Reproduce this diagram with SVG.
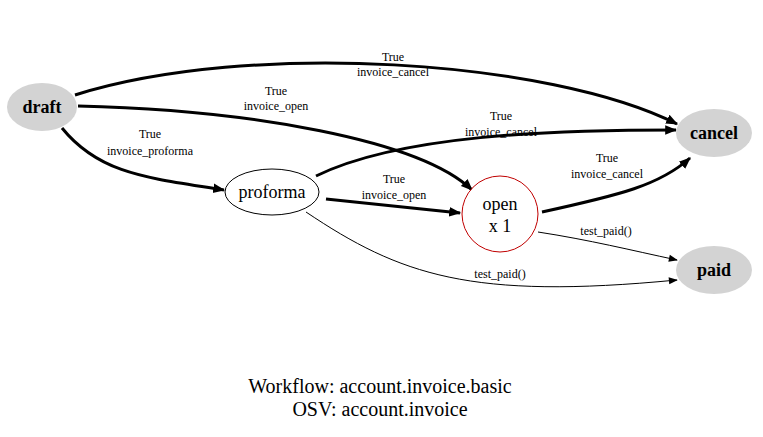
<svg xmlns="http://www.w3.org/2000/svg" width="763" height="437" viewBox="0 0 763 437" font-family="'Liberation Serif','Times New Roman','DejaVu Serif',serif">
<style>
text{font-family:'Liberation Serif','Times New Roman','DejaVu Serif',serif;fill:#000}
.l{font-size:12px;text-anchor:middle}
.n{font-size:18px;text-anchor:middle}
.b{font-weight:bold}
.t{fill:none;stroke:#000;stroke-width:3}
.h{fill:none;stroke:#000;stroke-width:1}
</style>
<defs>
<marker id="a" viewBox="0 0 10 10" refX="9" refY="5" markerWidth="4" markerHeight="4" orient="auto" markerUnits="strokeWidth"><path d="M0,1L10,5L0,9z"/></marker>
<marker id="s" viewBox="0 0 10 10" refX="9" refY="5" markerWidth="11" markerHeight="9" orient="auto" markerUnits="strokeWidth"><path d="M0,1L10,5L0,9z"/></marker>
</defs>
<rect width="763" height="437" fill="#fff"/>
<g id="connectors">
<path class="t" marker-end="url(#a)" d="M75,95C250,40 550,60 677,124"/>
<path class="t" marker-end="url(#a)" d="M78,106C250,110 420,140 472,190"/>
<path class="t" marker-end="url(#a)" d="M62,128C100,175 150,178 224,190"/>
<path class="t" marker-end="url(#a)" d="M316,176C400,135 550,130 676,130"/>
<path class="t" marker-end="url(#a)" d="M326,199L460,213"/>
<path class="t" marker-end="url(#a)" d="M542,212C620,195 660,185 690,158"/>
<path class="h" marker-end="url(#s)" d="M538,232C590,240 630,250 677,260"/>
<path class="h" marker-end="url(#s)" d="M306,212C400,275 470,300 677,280"/>
<text class="l" x="393" y="61">True</text><text class="l" x="393" y="76">invoice_cancel</text>
<text class="l" x="276" y="95">True</text><text class="l" x="276" y="110">invoice_open</text>
<text class="l" x="150" y="138">True</text><text class="l" x="150" y="155">invoice_proforma</text>
<text class="l" x="501" y="120">True</text><text class="l" x="501" y="136">invoice_cancel</text>
<text class="l" x="394" y="183">True</text><text class="l" x="394" y="199">invoice_open</text>
<text class="l" x="607" y="162">True</text><text class="l" x="607" y="178">invoice_cancel</text>
<text class="l" x="606" y="235">test_paid()</text>
<text class="l" x="500" y="278">test_paid()</text>
</g>
<g id="draft"><ellipse cx="42" cy="107" rx="35" ry="24" fill="#d3d3d3"/><text class="n b" x="42" y="113">draft</text></g>
<g id="proforma"><ellipse cx="272" cy="192" rx="47" ry="23" fill="#fff" stroke="#000"/><text class="n" x="272" y="198">proforma</text></g>
<g id="open"><circle cx="500" cy="214" r="38" fill="#fff" stroke="#c00000"/><text class="n" x="500" y="210">open</text><text class="n" x="500" y="232">x 1</text></g>
<g id="cancel"><ellipse cx="714" cy="133" rx="38" ry="24" fill="#d3d3d3"/><text class="n b" x="714" y="139">cancel</text></g>
<g id="paid"><ellipse cx="714" cy="270" rx="38" ry="24" fill="#d3d3d3"/><text class="n b" x="714" y="276">paid</text></g>
<g id="caption"><text x="380" y="393" font-size="20" text-anchor="middle">Workflow: account.invoice.basic</text><text x="380" y="416" font-size="20" text-anchor="middle">OSV: account.invoice</text></g>
</svg>
